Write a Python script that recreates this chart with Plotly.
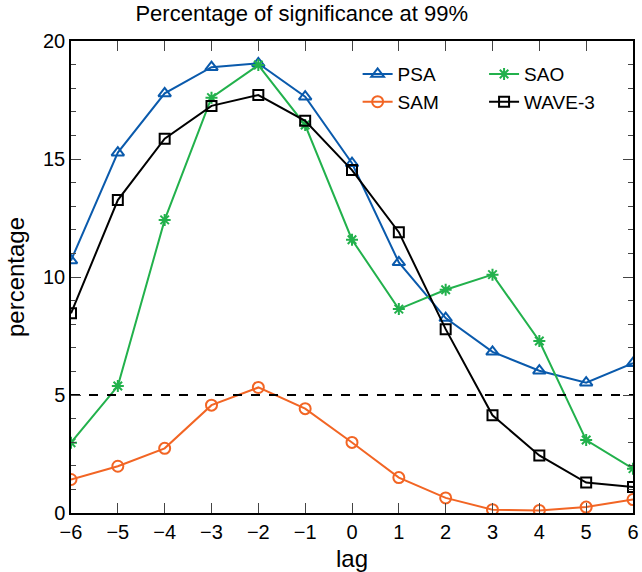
import plotly.graph_objects as go

lags = [-6, -5, -4, -3, -2, -1, 0, 1, 2, 3, 4, 5, 6]
psa = [10.7, 15.27, 17.78, 18.89, 19.05, 17.64, 14.82, 10.62, 8.26, 6.83, 6.03, 5.52, 6.35]
sam = [1.42, 1.98, 2.74, 4.57, 5.32, 4.42, 2.99, 1.50, 0.64, 0.14, 0.11, 0.25, 0.57]
sao = [2.98, 5.38, 12.42, 17.6, 18.98, 16.44, 11.58, 8.64, 9.46, 10.1, 7.29, 3.09, 1.88]
wave3 = [8.46, 13.26, 15.86, 17.25, 17.71, 16.62, 14.53, 11.9, 7.79, 4.14, 2.44, 1.29, 1.10]
threshold = 5

FONT = "Liberation Sans"

fig = go.Figure()
series = [
    ("PSA", psa, "#0a5aac", "triangle-up-open", 11, "legend"),
    ("SAM", sam, "#f26524", "circle-open", 11, "legend"),
    ("SAO", sao, "#22b14c", "asterisk-open", 10, "legend2"),
    ("WAVE-3", wave3, "#000000", "square-open", 10, "legend2"),
]
for name, vals, col, sym, size, leg in series:
    fig.add_trace(go.Scatter(
        x=lags, y=vals, name=name, mode="lines+markers", legend=leg,
        line=dict(color=col, width=2),
        marker=dict(symbol=sym, size=size, color=col, line=dict(color=col, width=2)),
    ))

fig.add_trace(go.Scatter(
    x=[lags[0], lags[-1]], y=[threshold, threshold], mode="lines",
    line=dict(color="black", width=2, dash="dash"), showlegend=False, hoverinfo="skip"))

fig.update_layout(
    width=642, height=572,
    margin=dict(l=71, r=3, t=41, b=59),
    paper_bgcolor="white", plot_bgcolor="white",
    font=dict(family=FONT, size=20, color="black"),
    title=dict(text="Percentage of significance at 99%", x=0.47, xanchor="center",
               y=0.99, yanchor="top", font=dict(family=FONT, size=22)),
    legend=dict(x=0.51, y=0.97, xanchor="left", yanchor="top", bgcolor="rgba(0,0,0,0)",
                font=dict(family=FONT, size=19), tracegroupgap=0, itemwidth=30),
    legend2=dict(x=0.735, y=0.97, xanchor="left", yanchor="top", bgcolor="rgba(0,0,0,0)",
                 font=dict(family=FONT, size=19), tracegroupgap=0, itemwidth=30),
)

fig.update_xaxes(
    range=[-6, 6], tickmode="linear", tick0=-6, dtick=1,
    ticks="inside", ticklen=10, tickwidth=1, tickcolor="#444",
    ticklabeloverflow="allow",
    showline=True, linecolor="black", linewidth=1.5, mirror="ticks",
    showgrid=False, zeroline=False,
    title=dict(text="lag", standoff=8),
)
fig.update_yaxes(
    range=[0, 20], tickmode="linear", tick0=0, dtick=5,
    ticks="inside", ticklen=10, tickwidth=1, tickcolor="#444",
    minor=dict(ticks="inside", ticklen=5, dtick=1, tickcolor="#444", showgrid=False),
    showline=True, linecolor="black", linewidth=1.5, mirror="ticks",
    showgrid=False, zeroline=False,
    title=dict(text="percentage", standoff=12),
)

fig.write_html("out.html")
